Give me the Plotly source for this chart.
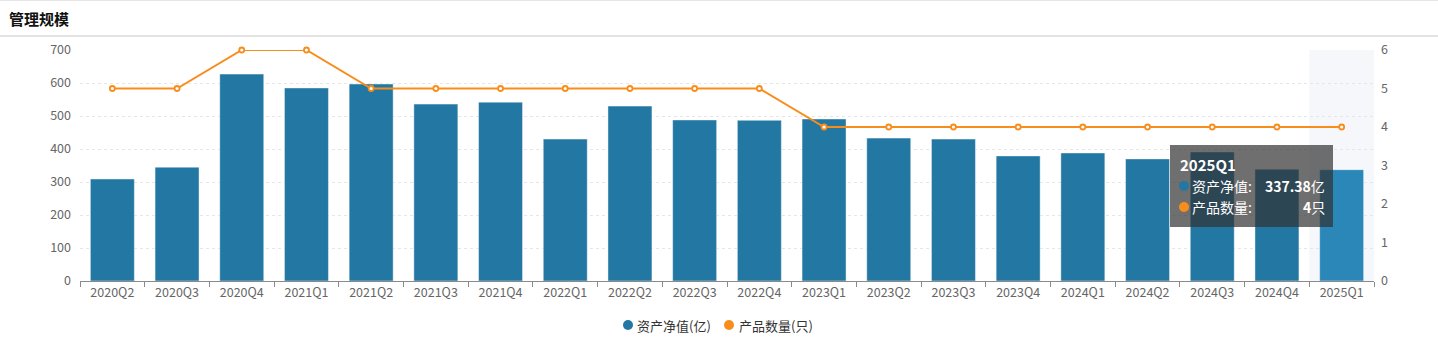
import plotly.graph_objects as go

quarters = ["2020Q2", "2020Q3", "2020Q4", "2021Q1", "2021Q2", "2021Q3", "2021Q4",
            "2022Q1", "2022Q2", "2022Q3", "2022Q4", "2023Q1", "2023Q2", "2023Q3",
            "2023Q4", "2024Q1", "2024Q2", "2024Q3", "2024Q4", "2025Q1"]
net_assets = [309, 345, 627, 585, 597, 536, 542, 430, 530, 488, 487, 491, 433, 430,
              379, 388, 370, 391, 339, 337.38]
product_count = [5, 5, 6, 6, 5, 5, 5, 5, 5, 5, 5, 4, 4, 4, 4, 4, 4, 4, 4, 4]
left_ticks = [0, 100, 200, 300, 400, 500, 600, 700]
right_ticks = [0, 1, 2, 3, 4, 5, 6]
legend_names = ["资产净值(亿)", "产品数量(只)"]

BLUE = "#2277a3"
BLUE_HL = "#2a87b8"
ORANGE = "#f98d1c"
FONT = "Noto Sans CJK SC"

L, R, T, B = 80, 64, 50, 58
W, H = 1438, 339
PW, PH = W - L - R, H - T - B


def px(x):
    return (x - L) / PW


def py(y):
    return (H - B - y) / PH


bar_colors = [BLUE] * (len(quarters) - 1) + [BLUE_HL]

fig = go.Figure()
fig.add_trace(go.Bar(
    x=quarters, y=net_assets, name=legend_names[0], yaxis="y",
    marker=dict(color=bar_colors, line=dict(color="rgba(255,255,255,0.45)", width=1)),
    width=0.68, showlegend=False,
))
fig.add_trace(go.Scatter(
    x=quarters, y=product_count, name=legend_names[1], yaxis="y2",
    mode="lines+markers", cliponaxis=False,
    line=dict(color=ORANGE, width=2),
    marker=dict(symbol="circle", size=5, color="white", line=dict(color=ORANGE, width=1.8)),
    showlegend=False,
))

shapes = [
    dict(type="rect", xref="x", yref="paper", x0=len(quarters) - 1.5, x1=len(quarters) - 0.5,
         y0=0, y1=1, fillcolor="#f5f7fb", line=dict(width=0), layer="below"),
    dict(type="line", xref="paper", yref="paper", x0=px(0), x1=px(W), y0=py(36), y1=py(36),
         line=dict(color="#c8c8c8", width=1)),
    dict(type="line", xref="paper", yref="paper", x0=px(0), x1=px(W), y0=py(0.5), y1=py(0.5),
         line=dict(color="#e6e6e6", width=1)),
    # tooltip box
    dict(type="rect", xref="paper", yref="paper", x0=px(1170), x1=px(1333), y0=py(145), y1=py(227),
         fillcolor="rgba(50,50,50,0.7)", line=dict(width=0)),
    dict(type="circle", xref="paper", yref="paper", x0=px(1179), x1=px(1189), y0=py(181), y1=py(191),
         fillcolor=BLUE, line=dict(width=0)),
    dict(type="circle", xref="paper", yref="paper", x0=px(1179), x1=px(1189), y0=py(202), y1=py(212),
         fillcolor=ORANGE, line=dict(width=0)),
    # legend dots
    dict(type="circle", xref="paper", yref="paper", x0=px(623), x1=px(633), y0=py(320), y1=py(330),
         fillcolor=BLUE, line=dict(width=0)),
    dict(type="circle", xref="paper", yref="paper", x0=px(724), x1=px(734), y0=py(320), y1=py(330),
         fillcolor=ORANGE, line=dict(width=0)),
]

annotations = [
    dict(text="<b>管理规模</b>", xref="paper", yref="paper", x=px(7), y=py(18),
         xanchor="left", yanchor="middle", showarrow=False,
         font=dict(size=15, color="#111", family=FONT)),
    dict(text="<b>2025Q1</b>", xref="paper", yref="paper", x=px(1178), y=py(164),
         xanchor="left", yanchor="middle", showarrow=False,
         font=dict(size=15, color="white", family=FONT)),
    dict(text="资产净值:", xref="paper", yref="paper", x=px(1190), y=py(186),
         xanchor="left", yanchor="middle", showarrow=False,
         font=dict(size=14, color="white", family=FONT)),
    dict(text="产品数量:", xref="paper", yref="paper", x=px(1190), y=py(207),
         xanchor="left", yanchor="middle", showarrow=False,
         font=dict(size=14, color="white", family=FONT)),
    dict(text=f"<b>{net_assets[-1]:.2f}</b>亿", xref="paper", yref="paper", x=px(1327), y=py(186),
         xanchor="right", yanchor="middle", showarrow=False,
         font=dict(size=14, color="white", family=FONT)),
    dict(text=f"<b>{product_count[-1]}</b>只", xref="paper", yref="paper", x=px(1327), y=py(207),
         xanchor="right", yanchor="middle", showarrow=False,
         font=dict(size=14, color="white", family=FONT)),
    dict(text=legend_names[0], xref="paper", yref="paper", x=px(635), y=py(325),
         xanchor="left", yanchor="middle", showarrow=False,
         font=dict(size=13, color="#333", family=FONT)),
    dict(text=legend_names[1], xref="paper", yref="paper", x=px(737), y=py(325),
         xanchor="left", yanchor="middle", showarrow=False,
         font=dict(size=13, color="#333", family=FONT)),
]

fig.update_layout(
    width=W, height=H,
    margin=dict(l=L, r=R, t=T, b=B),
    paper_bgcolor="white", plot_bgcolor="white",
    font=dict(family=FONT, size=12, color="#666"),
    showlegend=False,
    shapes=shapes,
    annotations=annotations,
    xaxis=dict(
        type="category", categoryorder="array", categoryarray=quarters,
        range=[-0.5, len(quarters) - 0.5], automargin=False,
        showline=True, linecolor="#8a8a8a", linewidth=1,
        ticks="outside", tickson="boundaries", ticklen=5, tickcolor="#8a8a8a",
        tickfont=dict(size=12.5, color="#666"), showgrid=False,
    ),
    yaxis=dict(
        range=[0, 700], tickvals=left_ticks, showline=False, zeroline=False, automargin=False,
        showgrid=True, gridcolor="#e6e6e6", griddash="dot", gridwidth=1,
        tickfont=dict(size=12.5, color="#666"), ticks="", ticklabelstandoff=8,
    ),
    yaxis2=dict(
        range=[0, 6], tickvals=right_ticks, overlaying="y", side="right", automargin=False,
        showline=False, zeroline=False, showgrid=False,
        tickfont=dict(size=12.5, color="#666"), ticks="", ticklabelstandoff=6,
    ),
)

fig.write_html("out.html")
